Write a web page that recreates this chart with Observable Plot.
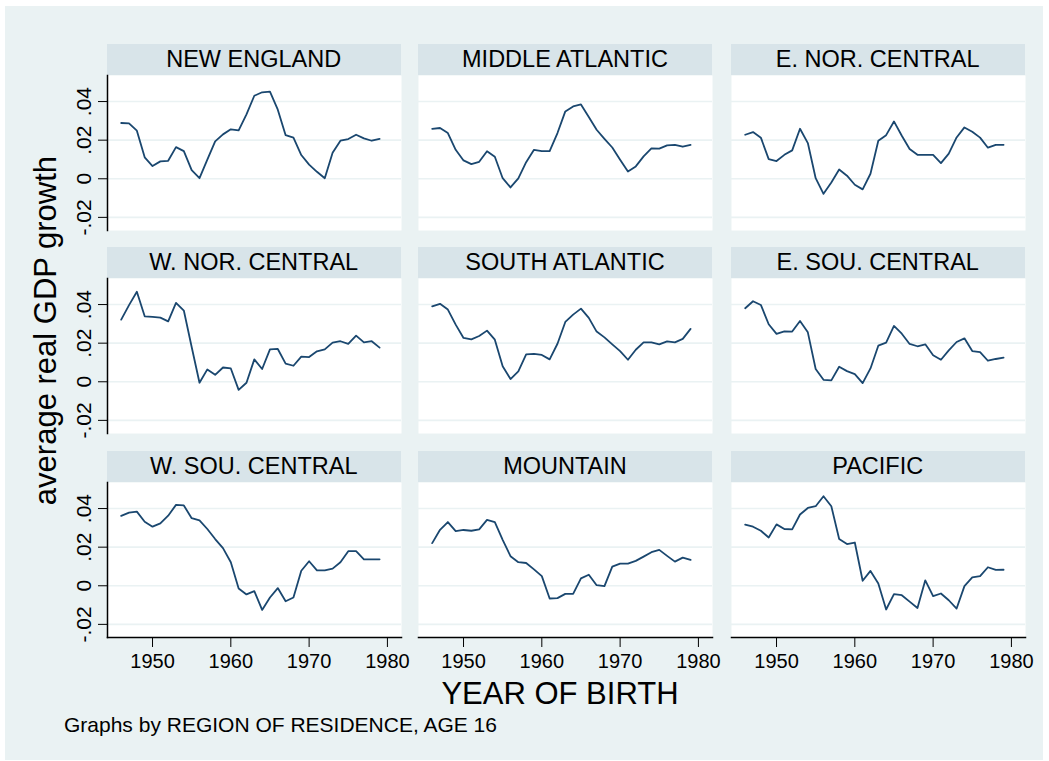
<!DOCTYPE html>
<html>
<head>
<meta charset="utf-8">
<script src="https://cdn.jsdelivr.net/npm/d3@7"></script>
<script src="https://cdn.jsdelivr.net/npm/@observablehq/plot@0.6"></script>
<style>
  html, body { margin: 0; padding: 0; background: #ffffff; }
  body { width: 1049px; height: 761px; position: relative; overflow: hidden; font-family: "Liberation Sans", Arial, sans-serif; }
  #bg { position: absolute; left: 5px; top: 6px; width: 1038px; height: 754px; background: #eaf2f3; }
  .strip { position: absolute; background: #d8e4e9; color: #000; text-align: center; font-size: 23.5px; line-height: 31px; height: 31px; white-space: nowrap; }
  .panel { position: absolute; }
  .panel svg { overflow: visible; }
  #ytitle { position: absolute; width: 500px; text-align: center; font-size: 31px; line-height: 31px; transform: rotate(-90deg); white-space: nowrap; }
  #xtitle { position: absolute; width: 500px; text-align: center; font-size: 31px; line-height: 31px; white-space: nowrap; }
  #caption { position: absolute; font-size: 21px; line-height: 21px; white-space: nowrap; }
</style>
</head>
<body>
<div id="bg"></div>
<script>
// ---- data ----
const years = [1946,1947,1948,1949,1950,1951,1952,1953,1954,1955,1956,1957,1958,1959,1960,1961,1962,1963,1964,1965,1966,1967,1968,1969,1970,1971,1972,1973,1974,1975,1976,1977,1978,1979];
const regions = ["NEW ENGLAND","MIDDLE ATLANTIC","E. NOR. CENTRAL","W. NOR. CENTRAL","SOUTH ATLANTIC","E. SOU. CENTRAL","W. SOU. CENTRAL","MOUNTAIN","PACIFIC"];
const newEngland = [0.0289,0.0287,0.0249,0.0111,0.0066,0.0090,0.0093,0.0164,0.0143,0.0045,0.0003,0.0099,0.0194,0.0230,0.0256,0.0251,0.0334,0.0430,0.0448,0.0451,0.0358,0.0226,0.0213,0.0123,0.0073,0.0036,0.0003,0.0135,0.0197,0.0206,0.0228,0.0209,0.0197,0.0207];
const middleAtlantic = [0.0258,0.0263,0.0237,0.0150,0.0095,0.0076,0.0088,0.0143,0.0114,0.0003,-0.0045,0.0002,0.0086,0.0150,0.0143,0.0143,0.0237,0.0349,0.0375,0.0385,0.0320,0.0254,0.0207,0.0162,0.0099,0.0038,0.0064,0.0116,0.0157,0.0156,0.0173,0.0176,0.0166,0.0175];
const eNorCentral = [0.0228,0.0242,0.0213,0.0102,0.0092,0.0124,0.0147,0.0259,0.0185,0.0003,-0.0078,-0.0019,0.0048,0.0016,-0.0031,-0.0055,0.0026,0.0197,0.0226,0.0297,0.0223,0.0154,0.0124,0.0124,0.0124,0.0081,0.0130,0.0214,0.0266,0.0244,0.0213,0.0161,0.0176,0.0176];
const wNorCentral = [0.0322,0.0397,0.0466,0.0339,0.0336,0.0332,0.0313,0.0409,0.0369,0.0180,-0.0005,0.0064,0.0036,0.0074,0.0069,-0.0042,-0.0005,0.0116,0.0066,0.0168,0.0170,0.0094,0.0083,0.0130,0.0128,0.0158,0.0168,0.0203,0.0210,0.0196,0.0239,0.0204,0.0210,0.0177];
const southAtlantic = [0.0391,0.0404,0.0374,0.0296,0.0227,0.0220,0.0237,0.0265,0.0218,0.0080,0.0014,0.0054,0.0142,0.0145,0.0139,0.0116,0.0197,0.0310,0.0348,0.0379,0.0331,0.0260,0.0230,0.0194,0.0159,0.0114,0.0166,0.0204,0.0204,0.0194,0.0209,0.0204,0.0222,0.0274];
const eSouCentral = [0.0381,0.0417,0.0398,0.0298,0.0248,0.0261,0.0260,0.0315,0.0256,0.0066,0.0010,0.0007,0.0078,0.0055,0.0040,-0.0007,0.0069,0.0187,0.0203,0.0289,0.0249,0.0196,0.0184,0.0194,0.0137,0.0114,0.0163,0.0206,0.0225,0.0159,0.0154,0.0109,0.0118,0.0125];
const wSouCentral = [0.0362,0.0379,0.0384,0.0332,0.0306,0.0323,0.0363,0.0419,0.0416,0.0350,0.0339,0.0294,0.0242,0.0195,0.0122,-0.0014,-0.0045,-0.0028,-0.0125,-0.0061,-0.0012,-0.0080,-0.0061,0.0078,0.0127,0.0080,0.0080,0.0089,0.0122,0.0179,0.0179,0.0137,0.0137,0.0137];
const mountain = [0.0221,0.0290,0.0330,0.0283,0.0289,0.0285,0.0292,0.0341,0.0330,0.0238,0.0153,0.0122,0.0118,0.0085,0.0050,-0.0066,-0.0064,-0.0042,-0.0042,0.0038,0.0057,0.0003,-0.0002,0.0099,0.0115,0.0115,0.0129,0.0151,0.0174,0.0186,0.0155,0.0125,0.0146,0.0134];
const pacific = [0.0317,0.0306,0.0285,0.0250,0.0318,0.0294,0.0292,0.0369,0.0403,0.0412,0.0464,0.0412,0.0242,0.0216,0.0224,0.0026,0.0077,0.0012,-0.0123,-0.0043,-0.0049,-0.0082,-0.0115,0.0028,-0.0054,-0.0040,-0.0075,-0.0118,-0.0002,0.0043,0.0050,0.0096,0.0082,0.0083];
const seriesByRegion = [newEngland, middleAtlantic, eNorCentral, wNorCentral, southAtlantic, eSouCentral, wSouCentral, mountain, pacific];

const xTicks = [1950, 1960, 1970, 1980];
const yTicks = [-0.02, 0, 0.02, 0.04];
const yTickLabels = ["-.02", "0", ".02", ".04"];
const yTitle = "average real GDP growth";
const xTitle = "YEAR OF BIRTH";
const caption = "Graphs by REGION OF RESIDENCE, AGE 16";

// ---- layout ----
const navy = "#1a476f";
const gridColor = "#eaf2f3";
const colLefts = [106.7, 418, 730.7];
const rowTops = [74.5, 278, 482];
const plotW = 294;
const plotH = 155;
const stripH = 31;
const xDomain = [1944.25, 1981.8];
const yDomain = [-0.0268, 0.0535];

const table = [];
regions.forEach((r, i) => years.forEach((y, j) => table.push({region: r, year: y, value: seriesByRegion[i][j]})));

regions.forEach((region, i) => {
  const col = i % 3, row = Math.floor(i / 3);
  const left = colLefts[col], top = rowTops[row];

  const strip = document.createElement("div");
  strip.className = "strip";
  strip.style.left = left + "px";
  strip.style.top = (top - stripH) + "px";
  strip.style.width = plotW + "px";
  strip.textContent = region;
  document.body.appendChild(strip);

  const ml = col === 0 ? 70 : 0;
  const mb = row === 2 ? 45 : 0;
  const marks = [
    Plot.frame({fill: "white", stroke: null}),
    Plot.ruleY(yTicks, {stroke: gridColor, strokeWidth: 1.6}),
    Plot.lineY(table.filter(d => d.region === region), {x: "year", y: "value", stroke: navy, strokeWidth: 1.8})
  ];
  if (col === 0) {
    marks.push(Plot.axisY({ticks: yTicks, tickSize: 9, tickRotate: -90, tickPadding: 8, fontSize: 21,
      tickFormat: d => yTickLabels[yTicks.indexOf(d)], label: null, stroke: "#000", fill: "#000"}));
    marks.push(Plot.frame({anchor: "left", stroke: "#000", strokeWidth: 1.5}));
  }
  if (row === 2) {
    marks.push(Plot.axisX({ticks: xTicks, tickSize: 10, tickPadding: 6, fontSize: 20,
      tickFormat: d => String(d), label: null, stroke: "#000", fill: "#000"}));
    marks.push(Plot.frame({anchor: "bottom", stroke: "#000", strokeWidth: 1.5}));
  }
  const svg = Plot.plot({
    width: plotW + ml,
    height: plotH + mb,
    marginLeft: ml, marginRight: 0, marginTop: 0, marginBottom: mb,
    style: {background: "transparent", fontFamily: '"Liberation Sans", Arial, sans-serif', color: "#000", overflow: "visible"},
    x: {domain: xDomain, axis: null},
    y: {domain: yDomain, axis: null},
    marks
  });
  const wrap = document.createElement("div");
  wrap.className = "panel";
  wrap.style.left = (left - ml) + "px";
  wrap.style.top = top + "px";
  wrap.appendChild(svg);
  document.body.appendChild(wrap);
});

const yt = document.createElement("div");
yt.id = "ytitle";
yt.textContent = yTitle;
yt.style.left = (45 - 250) + "px";
yt.style.top = (330 - 15.5) + "px";
document.body.appendChild(yt);

const xt = document.createElement("div");
xt.id = "xtitle";
xt.textContent = xTitle;
xt.style.left = (560 - 250) + "px";
xt.style.top = "678px";
document.body.appendChild(xt);

const cap = document.createElement("div");
cap.id = "caption";
cap.textContent = caption;
cap.style.left = "64px";
cap.style.top = "714px";
document.body.appendChild(cap);
</script>
</body>
</html>
